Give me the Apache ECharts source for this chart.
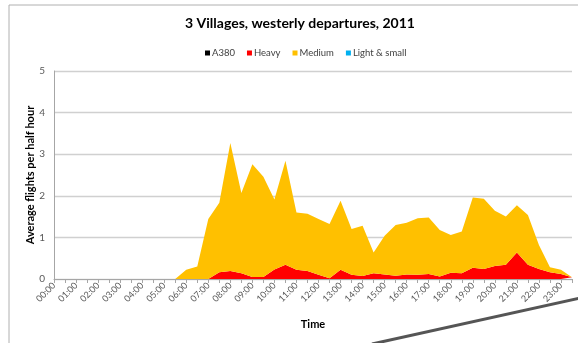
<!DOCTYPE html>
<html><head><meta charset="utf-8">
<script src="https://cdn.jsdelivr.net/npm/echarts@6/dist/echarts.min.js"></script>
<style>html,body{margin:0;padding:0;background:#fff}#c{width:578px;height:343px}</style>
</head><body><div id="c"></div>
<script>
const times = [];
for (let h = 0; h < 24; h++) { const hh = (h < 10 ? '0' : '') + h; times.push(hh + ':00'); times.push(hh + ':30'); }
const a380 = [0,0,0,0,0,0,0,0,0,0,0,0,0,0,0,0,0,0,0,0,0,0,0,0,0,0,0,0,0,0,0,0,0,0,0,0,0,0,0,0,0,0,0,0,0,0,0,0];
const heavy = [0,0,0,0,0,0,0,0,0,0,0,0,0,0,0,0.16,0.19,0.14,0.05,0.05,0.23,0.34,0.22,0.19,0.10,0.02,0.22,0.10,0.07,0.14,0.11,0.08,0.11,0.10,0.12,0.06,0.15,0.14,0.27,0.24,0.31,0.34,0.64,0.34,0.24,0.16,0.12,0.04];
const total = [0,0,0,0,0,0,0,0,0,0,0,0,0.22,0.30,1.44,1.83,3.27,2.07,2.76,2.46,1.91,2.84,1.60,1.57,1.44,1.32,1.88,1.20,1.28,0.64,1.04,1.30,1.35,1.46,1.48,1.18,1.06,1.14,1.96,1.93,1.64,1.50,1.77,1.54,0.82,0.28,0.22,0.04];
const medium = total.map((t, i) => +(t - heavy[i] - a380[i]).toFixed(2));
const light = [0,0,0,0,0,0,0,0,0,0,0,0,0,0,0,0,0,0,0,0,0,0,0,0,0,0,0,0,0,0,0,0,0,0,0,0,0,0,0,0,0,0,0,0,0,0,0,0];
const seriesNames = ['A380', 'Heavy', 'Medium', 'Light & small'];
const colors = ['#000000', '#FF0000', '#FFC000', '#00B0F0'];
const yTicks = [0, 1, 2, 3, 4, 5];

const F = 'Lato, "Open Sans", sans-serif';
const chart = echarts.init(document.getElementById('c'));
const mk = (name, data, i) => ({
  name, type: 'line', stack: 'all', data, symbol: 'none',
  lineStyle: { width: 0 }, areaStyle: { color: colors[i], opacity: 1 },
  itemStyle: { color: colors[i] }, animation: false
});
chart.setOption({
  animation: false,
  title: { text: '3 Villages, westerly departures, 2011', left: 295, top: 11, textAlign: 'center',
    textStyle: { fontFamily: F, fontSize: 14, fontWeight: 'bold', color: '#000' } },
  legend: { top: 43, left: 200, itemWidth: 5, itemHeight: 5, itemGap: 12, icon: 'rect',
    data: seriesNames, textStyle: { fontFamily: F, fontSize: 9.5, color: '#404040', padding: [0, 0, 0, -3] } },
  grid: { left: 54, right: 6, top: 71, bottom: 64 },
  xAxis: {
    type: 'category', data: times, boundaryGap: false,
    name: 'Time', nameLocation: 'middle', nameGap: 40,
    nameTextStyle: { fontFamily: F, fontSize: 11, fontWeight: 'bold', color: '#000' },
    axisLine: { lineStyle: { color: '#A6A6A6' } },
    axisTick: { show: true, interval: 0, length: 4, inside: false, lineStyle: { color: '#A6A6A6' } },
    axisLabel: { interval: 1, rotate: 45, fontFamily: F, fontSize: 9, color: '#595959', margin: 5 },
    splitLine: { show: false }
  },
  yAxis: {
    type: 'value', min: yTicks[0], max: yTicks[yTicks.length - 1], interval: 1,
    name: 'Average flights per half hour', nameLocation: 'middle', nameGap: 18, nameMoveOverlap: false,
    nameTextStyle: { fontFamily: F, fontSize: 11, fontWeight: 'bold', color: '#000' },
    axisLine: { show: true, lineStyle: { color: '#A6A6A6' } },
    axisTick: { show: false },
    axisLabel: { fontFamily: F, fontSize: 10, color: '#595959', margin: 9 },
    splitLine: { lineStyle: { color: '#D0D0D0', width: 1.3 } }
  },
  series: [mk('A380', a380, 0), mk('Heavy', heavy, 1), mk('Medium', medium, 2), mk('Light & small', light, 3)],
  graphic: [
    { type: 'rect', shape: { x: 9, y: 5, width: 580, height: 345 }, style: { fill: 'none', stroke: '#B0B0B0', lineWidth: 1 }, silent: true, z: -1 },
    { type: 'line', shape: { x1: 372, y1: 344, x2: 580, y2: 298 }, style: { stroke: '#555555', lineWidth: 3 }, silent: true, z: 10 }
  ]
});
</script></body></html>
